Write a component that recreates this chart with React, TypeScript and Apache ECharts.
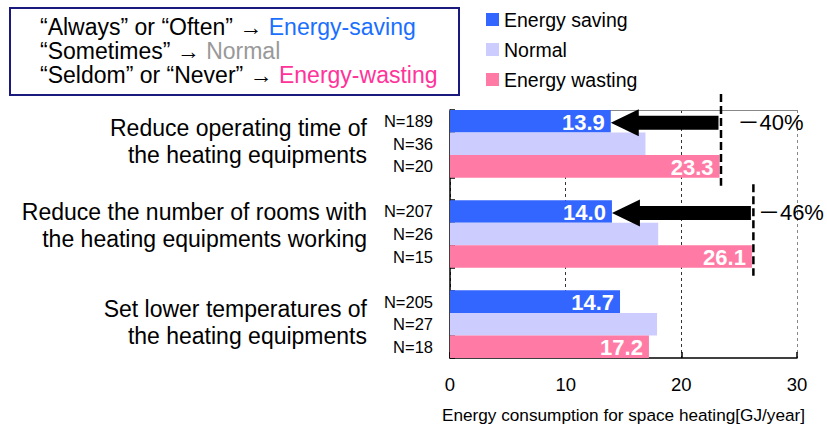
import React, { useEffect, useRef } from 'react';
import * as echarts from 'echarts';

// ---- data ----
const groupLabels = [
  'Reduce operating time of\nthe heating equipments',
  'Reduce the number of rooms with\nthe heating equipments working',
  'Set lower temperatures of\nthe heating equipments',
];
const seriesNames = ['Energy saving', 'Normal', 'Energy wasting'];
const savingValues = [13.9, 14.0, 14.7];
const normalValues = [16.9, 18.0, 17.9];
const wastingValues = [23.3, 26.1, 17.2];
const savingN = [189, 207, 205];
const normalN = [36, 26, 27];
const wastingN = [20, 15, 18];
const arrowGroups = [0, 1];
const arrowLabels = ['－40%', '－46%'];
const xMin = 0;
const xMax = 30;
const xInterval = 10;
const xAxisName = 'Energy consumption for space heating[GJ/year]';

// ---- styling ----
const FONT = '"Liberation Sans", Arial, "Noto Sans CJK JP", sans-serif';
const colors = ['#3366FF', '#CCCCFF', '#FF7BA6'];
const arrowLabelDx = [18, 6];
const groupLabelShift = [2.5, 9, 1.5];

// build category layout: 3 bars per group, blank slot between groups
const slotsPerGroup = 4;
const catLabels: string[] = [];
const sData: any[] = [];
const nData: any[] = [];
const wData: any[] = [];
groupLabels.forEach((g, i) => {
  catLabels.push('N=' + savingN[i], 'N=' + normalN[i], 'N=' + wastingN[i]);
  sData.push(savingValues[i], '-', '-');
  nData.push('-', normalValues[i], '-');
  wData.push('-', '-', wastingValues[i]);
  if (i < groupLabels.length - 1) {
    catLabels.push('');
    sData.push('-');
    nData.push('-');
    wData.push('-');
  }
});
const arrowData = arrowGroups.map((g) => [g * slotsPerGroup, wastingValues[g], savingValues[g]]);
const groupLabelData = groupLabels.map((_, i) => [0, i * slotsPerGroup + 1]);

const valueLabel = {
  show: true,
  position: 'insideRight',
  distance: 6,
  offset: [0, 1],
  color: '#fff',
  fontWeight: 'bold',
  fontSize: 22,
  fontFamily: FONT,
  formatter: (p: any) => Number(p.value).toFixed(1),
};

const richBase = { fontSize: 23, lineHeight: 24, fontWeight: 'normal', fontFamily: FONT };

export default function App() {
  const ref = useRef<HTMLDivElement>(null);
  useEffect(() => {
    if (!ref.current) return;
    const chart = echarts.init(ref.current, undefined, { renderer: 'svg' });
    const option: any = {
      animation: false,
      backgroundColor: '#fff',
      textStyle: { fontFamily: FONT },
      title: {
        left: 40,
        top: 15,
        padding: 0,
        text:
          '{k|“Always” or “Often” → }{b|Energy-saving}\n' +
          '{k|“Sometimes” → }{g|Normal}\n' +
          '{k|“Seldom” or “Never” → }{p|Energy-wasting}',
        textStyle: {
          fontFamily: FONT,
          fontWeight: 'normal',
          rich: {
            k: { ...richBase, color: '#000' },
            b: { ...richBase, color: '#1a6fff' },
            g: { ...richBase, color: '#999999' },
            p: { ...richBase, color: '#ff3399' },
          },
        },
      },
      graphic: [
        {
          type: 'rect',
          shape: { x: 10, y: 8, width: 449, height: 87 },
          style: { fill: 'none', stroke: '#1a1a7e', lineWidth: 2 },
          silent: true,
        },
      ],
      legend: {
        data: seriesNames,
        orient: 'vertical',
        left: 486,
        top: 9.5,
        padding: 0,
        itemWidth: 13,
        itemHeight: 13,
        itemGap: 10,
        icon: 'rect',
        textStyle: { fontSize: 19.5, lineHeight: 20, color: '#000', fontFamily: FONT },
      },
      grid: {
        left: 450,
        top: 110,
        width: 347,
        height: 248,
        containLabel: false,
        outerBoundsMode: 'none',
      },
      xAxis: [
        {
          type: 'value',
          min: xMin,
          max: xMax,
          interval: xInterval,
          position: 'bottom',
          name: xAxisName,
          nameLocation: 'middle',
          nameGap: 48,
          nameTextStyle: { fontSize: 17.2, color: '#000', fontFamily: FONT },
          axisLine: { show: true, lineStyle: { color: '#000', width: 1.5 } },
          axisTick: { show: true, inside: true, length: 6, lineStyle: { color: '#000', width: 1.5 } },
          axisLabel: { fontSize: 18.5, color: '#000', margin: 17, fontFamily: FONT },
          splitLine: {
            show: true,
            lineStyle: { color: ['#333', '#333', '#333', '#888'], type: [3, 3], width: 1 },
          },
        },
        {
          type: 'value',
          min: xMin,
          max: xMax,
          position: 'top',
          axisLine: { show: true, lineStyle: { color: '#888', width: 1 } },
          axisTick: { show: false },
          axisLabel: { show: false },
          splitLine: { show: false },
        },
      ],
      yAxis: [
        {
          type: 'category',
          data: catLabels,
          inverse: true,
          axisLine: { show: true, lineStyle: { color: '#000', width: 1.5 } },
          axisTick: { show: true, inside: true, length: 5, lineStyle: { color: '#000', width: 1.5 } },
          axisLabel: { interval: 0, fontSize: 16.5, color: '#000', margin: 17, fontFamily: FONT },
        },
      ],
      series: [
        {
          name: seriesNames[0],
          type: 'bar',
          stack: 'all',
          barCategoryGap: '0%',
          data: sData,
          itemStyle: { color: colors[0] },
          label: valueLabel,
        },
        {
          name: seriesNames[1],
          type: 'bar',
          stack: 'all',
          barCategoryGap: '0%',
          data: nData,
          itemStyle: { color: colors[1] },
        },
        {
          name: seriesNames[2],
          type: 'bar',
          stack: 'all',
          barCategoryGap: '0%',
          data: wData,
          itemStyle: { color: colors[2] },
          label: valueLabel,
        },
        {
          type: 'custom',
          name: 'groupLabels',
          coordinateSystem: 'cartesian2d',
          clip: false,
          silent: true,
          encode: { x: 0, y: 1 },
          data: groupLabelData,
          renderItem: (params: any, api: any) => {
            const idx = params.dataIndex;
            const p = api.coord([api.value(0), api.value(1)]);
            return {
              type: 'text',
              x: p[0] - 83,
              y: p[1] - groupLabelShift[idx],
              style: {
                text: groupLabels[idx],
                fontSize: 23,
                lineHeight: 27,
                fontFamily: FONT,
                fill: '#000',
                align: 'right',
                verticalAlign: 'middle',
              },
            };
          },
        },
        {
          type: 'custom',
          name: 'reduction',
          coordinateSystem: 'cartesian2d',
          clip: false,
          z: 5,
          encode: { x: [1, 2], y: 0 },
          data: arrowData,
          renderItem: (params: any, api: any) => {
            const idx = params.dataIndex;
            const cat = api.value(0);
            const from = api.value(1);
            const to = api.value(2);
            const start = api.coord([from, cat]);
            const tip = api.coord([to, cat]);
            const band = api.size([0, 1])[1];
            const cy = start[1] + 1.5;
            const headLen = 28;
            const headH = 27;
            const bodyH = 14;
            const xEnd = start[0] - 1;
            const hx = tip[0] + headLen;
            return {
              type: 'group',
              children: [
                {
                  type: 'polygon',
                  shape: {
                    points: [
                      [tip[0], cy],
                      [hx, cy - headH / 2],
                      [hx, cy - bodyH / 2],
                      [xEnd, cy - bodyH / 2],
                      [xEnd, cy + bodyH / 2],
                      [hx, cy + bodyH / 2],
                      [hx, cy + headH / 2],
                    ],
                  },
                  style: { fill: '#000' },
                },
                {
                  type: 'line',
                  shape: {
                    x1: start[0] + 1.5,
                    y1: start[1] - band / 2 - 16,
                    x2: start[0] + 1.5,
                    y2: start[1] + band * 2.5 + 8,
                  },
                  style: { stroke: '#000', lineWidth: 2.5, lineDash: [8, 4] },
                },
                {
                  type: 'text',
                  x: start[0] + arrowLabelDx[idx],
                  y: cy,
                  style: {
                    text: arrowLabels[idx],
                    fontSize: 22,
                    fontFamily: FONT,
                    fill: '#000',
                    align: 'left',
                    verticalAlign: 'middle',
                  },
                },
              ],
            };
          },
        },
      ],
    };
    chart.setOption(option);
    return () => chart.dispose();
  }, []);
  return (
    <div
      ref={ref}
      style={{ position: 'fixed', left: 0, top: 0, width: 827, height: 427, background: '#fff' }}
    />
  );
}
